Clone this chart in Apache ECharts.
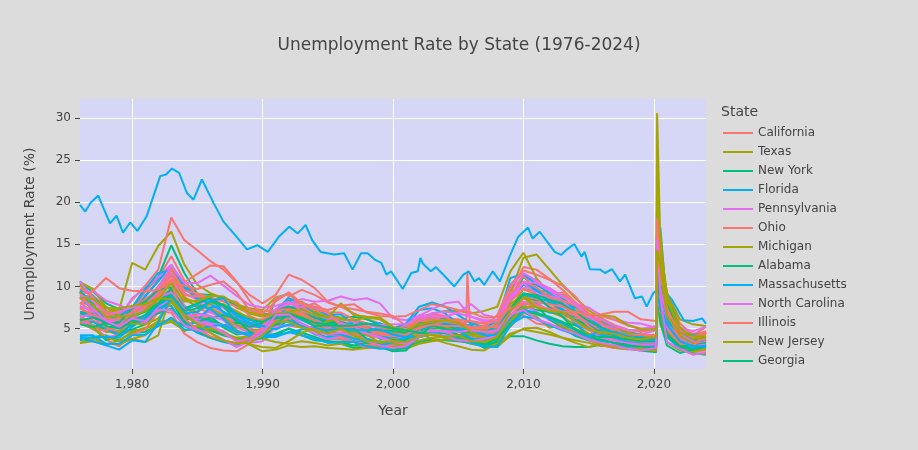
<!DOCTYPE html>
<html lang="en">
<head>
    <meta charset="UTF-8">
    <title>Unemployment Rate by State</title>
    <script src="https://cdn.jsdelivr.net/npm/echarts@6/dist/echarts.min.js"></script>
    <style>
        html, body { margin: 0; background: #dcdcdc; }
        #my { width: 918px; height: 450px; }
    </style>
</head>
<body>
<div id="my"></div>
<script>
    // time points (Jan of each year, then the 2020 shock)
    var years = [1976,1977,1978,1979,1980,1981,1982,1983,1984,1985,
        1986,1987,1988,1989,1990,1991,1992,1993,1994,1995,
        1996,1997,1998,1999,2000,2001,2002,2003,2004,2005,
        2006,2007,2008,2009,2010,2011,2012,2013,2014,2015,
        2016,2017,2018,2019,
        2020.17,2020.25,2020.5,2021,2022,2023,2024]

    var CA = [9.6,8.9,7.6,6.5,6.3,7.2,8.9,10.8,8.8,7.4, 6.9,6.4,5.6,5.1,5.2,6.6,8.8,9.6,9.0,8.1, 7.6,6.8,6.1,5.6,5.1,4.9,6.3,6.8,6.5,5.8, 5.0,5.0,6.0,9.4,12.3,12.0,10.9,9.6,8.1,6.8, 5.8,5.2,4.4,4.2, 4.1,16.1,13.5,9.0,5.6,4.2,5.2]
    var TX = [5.8,5.4,4.8,4.2,4.8,4.9,5.9,8.4,6.1,6.9, 8.2,8.8,7.5,6.8,6.4,6.7,7.5,7.1,6.5,6.1, 5.8,5.5,5.0,4.7,4.5,4.6,6.0,6.5,6.1,5.5, 5.0,4.4,4.4,6.2,8.1,8.1,7.0,6.4,5.4,4.4, 4.3,4.5,3.9,3.5, 3.5,13.0,9.0,7.0,4.6,4.0,4.0]
    var NY = [10.3,9.4,8.0,7.3,7.3,7.6,7.9,9.2,7.7,6.8, 6.5,5.1,4.3,4.5,4.9,6.8,8.3,8.1,7.4,6.6, 6.3,6.4,6.1,5.5,5.0,4.5,5.9,6.3,6.3,5.3, 4.8,4.5,5.0,7.5,8.9,8.3,8.5,8.2,6.9,5.6, 4.9,4.7,4.4,4.0, 3.9,15.3,14.0,9.0,5.0,4.1,4.3]
    var FL = [9.7,8.9,7.1,6.0,5.5,6.6,7.9,9.4,6.8,6.1, 5.8,5.4,5.1,5.3,5.8,7.2,8.6,8.0,7.1,6.1, 5.6,5.3,4.8,4.3,3.8,4.2,5.6,5.5,5.0,4.2, 3.3,3.4,4.8,8.5,11.1,10.8,9.0,7.9,6.6,5.7, 5.0,4.6,3.7,3.3, 3.2,13.8,11.0,5.9,3.3,2.7,3.1]
    var PA = [8.0,7.9,7.5,6.9,6.9,8.2,9.5,12.5,10.0,8.4, 7.8,6.8,5.7,4.9,4.7,6.2,7.4,7.2,6.4,6.0, 5.8,5.3,4.9,4.5,4.3,4.4,5.4,5.7,5.5,5.2, 4.8,4.5,4.6,7.2,8.6,8.0,8.0,7.8,6.3,5.3, 5.3,5.0,4.4,4.3, 4.8,16.1,13.2,7.5,4.8,3.7,3.5]
    var OH = [8.1,6.9,5.6,5.6,6.9,9.4,11.0,13.6,10.7,8.9, 8.4,7.5,6.4,5.7,5.3,6.3,7.2,6.8,5.9,4.9, 4.9,4.7,4.5,4.3,4.1,4.2,5.4,5.8,6.0,6.1, 5.7,5.6,5.9,9.1,10.6,9.0,7.6,7.2,6.2,5.0, 4.9,5.1,4.6,4.1, 4.3,17.4,11.4,5.7,4.1,3.6,3.9]
    var MI = [10.2,8.6,7.0,7.2,12.8,12.0,14.8,16.5,12.6,10.2, 9.2,8.6,7.9,7.4,7.2,8.7,9.1,7.9,6.8,5.6, 5.1,4.6,4.2,3.9,3.5,4.5,6.1,6.8,7.1,7.1, 6.8,7.1,7.6,11.8,14.0,11.0,9.2,9.0,7.8,6.0, 5.1,4.7,4.3,4.1, 3.9,22.7,9.8,6.0,4.3,3.9,3.9]
    var AL = [6.8,6.8,6.2,6.9,7.5,9.8,11.1,14.9,11.6,9.1, 9.0,8.6,7.7,7.2,6.7,6.8,7.4,7.3,6.5,5.8, 5.8,5.3,4.7,4.4,4.4,4.7,5.6,5.8,5.9,5.1, 3.8,3.4,3.9,8.3,11.2,9.7,8.1,7.1,6.9,6.4, 5.9,5.2,4.1,3.5, 2.7,13.2,7.9,4.1,3.0,2.5,2.9]
    var MA = [10.6,8.6,6.6,5.6,5.3,6.4,7.4,8.5,5.5,4.5, 3.9,3.4,3.1,3.5,4.5,8.5,9.2,7.9,6.9,5.9, 5.2,4.4,3.8,3.3,2.9,2.8,4.5,5.7,5.5,4.9, 4.8,4.6,4.6,7.1,8.7,7.9,6.9,6.8,6.2,5.1, 4.3,3.8,3.6,3.0, 2.8,16.4,17.0,7.5,4.2,3.5,2.9]
    var NC = [7.5,6.4,5.0,4.7,5.4,6.3,8.4,9.8,6.6,5.5, 5.3,4.7,3.6,3.3,3.5,5.2,6.3,5.6,4.8,4.3, 4.4,4.5,3.6,3.2,3.3,4.5,6.6,6.5,5.8,5.4, 4.9,4.7,5.5,9.5,11.2,10.5,9.8,8.8,6.6,5.9, 5.4,4.6,4.1,4.0, 3.6,12.9,8.5,5.7,3.8,3.5,3.4]
    var IL = [6.8,6.3,5.9,5.4,6.1,8.0,9.3,12.6,10.1,9.0, 8.6,7.8,7.1,6.0,6.1,6.8,7.9,7.7,6.4,5.4, 5.3,5.0,4.4,4.5,4.4,4.9,6.3,6.7,6.4,6.0, 4.8,4.8,5.6,8.7,11.4,9.4,9.0,9.3,7.8,6.3, 6.0,5.2,4.5,4.1, 3.9,17.2,11.7,7.4,4.9,4.4,4.6]
    var NJ = [10.5,9.7,7.5,7.0,7.1,7.3,8.4,9.6,7.0,6.1, 5.3,4.5,3.9,3.9,4.4,6.3,8.0,8.2,7.0,6.4, 6.3,5.8,4.9,4.5,3.8,3.8,5.6,5.9,5.2,4.6, 4.7,4.3,4.6,7.4,9.7,9.5,9.4,8.8,7.1,6.4, 5.1,4.8,4.3,3.6, 3.8,16.1,16.4,8.0,4.5,3.6,4.5]
    var GA = [8.7,7.2,5.7,5.3,6.0,6.5,7.7,8.6,6.0,6.4, 6.0,5.4,5.7,5.5,5.2,5.4,6.8,6.2,5.5,4.9, 4.9,4.6,4.3,4.1,3.6,3.7,4.9,5.0,5.0,5.2, 5.2,4.5,5.3,8.9,10.5,10.2,9.4,8.4,7.5,6.3, 5.5,5.1,4.1,3.5, 3.4,12.6,7.7,4.8,3.1,3.1,3.2]
    var WA = [9.0,8.7,6.8,6.6,6.8,8.8,10.7,12.4,10.2,8.6, 8.4,7.7,6.5,6.2,5.3,6.0,7.3,7.8,7.4,6.6, 6.7,5.4,4.9,5.0,5.0,5.2,7.2,7.4,6.8,5.6, 5.2,4.8,4.6,8.5,10.2,9.5,8.5,7.3,6.3,5.9, 5.6,5.0,4.6,4.3, 4.0,16.1,10.0,5.8,4.4,4.2,4.5]
    var AZ = [10.6,8.5,6.5,5.3,6.3,6.4,9.2,10.7,6.4,6.6, 7.0,6.3,6.4,5.4,5.4,5.7,7.6,7.0,6.3,5.6, 5.5,4.9,4.4,4.3,4.0,4.1,5.8,6.0,5.4,4.9, 4.3,3.8,4.6,8.2,10.5,9.8,8.5,7.9,7.0,6.4, 5.5,5.0,4.7,4.8, 4.8,13.5,9.0,6.9,3.5,3.9,4.2]
    var LA = [6.9,7.1,7.0,6.8,6.3,7.9,9.6,11.5,10.5,11.5, 12.5,12.4,10.6,8.3,6.5,6.9,8.1,7.5,8.0,6.9, 6.9,6.1,5.6,5.0,4.9,5.3,6.0,6.3,6.4,5.6, 5.0,4.1,4.0,5.8,7.4,7.7,7.3,6.5,6.2,6.4, 6.2,5.4,4.9,4.6, 5.0,13.1,9.6,7.5,4.3,3.6,3.8]
    var NV = [9.2,8.0,5.0,5.2,6.2,7.5,9.5,11.5,8.6,8.1, 7.2,6.1,5.4,4.8,4.9,5.9,6.8,7.0,6.2,5.5, 5.4,4.6,4.3,4.4,4.3,4.6,5.9,5.4,4.8,4.3, 4.2,4.4,5.6,9.3,13.4,13.8,12.0,10.2,8.6,7.2, 6.2,5.2,4.6,4.1, 3.9,30.6,15.0,9.2,6.1,5.5,5.3]
    var ND = [3.6,4.0,4.2,3.6,4.5,4.6,5.5,6.2,5.3,5.8, 6.3,5.3,4.6,4.4,3.8,4.2,5.0,4.5,4.0,3.5, 3.2,2.7,2.9,3.2,3.0,2.8,3.4,3.7,3.6,3.5, 3.3,3.2,3.2,4.1,4.1,3.6,3.2,2.9,2.8,2.8, 3.1,2.7,2.6,2.4, 2.2,8.6,6.5,4.4,3.2,2.1,1.9]
    var DC = [9.0,9.5,8.3,7.8,7.0,7.5,9.5,11.4,9.7,8.7, 8.2,7.5,6.2,5.0,5.5,6.4,8.0,8.5,8.2,8.3, 8.8,8.4,8.6,8.0,6.2,6.0,6.5,7.3,8.0,8.2, 6.4,5.8,6.0,8.6,9.8,10.1,9.8,8.8,7.9,7.5, 6.5,6.1,5.7,5.6, 5.1,11.1,8.7,7.2,5.1,4.7,5.2]
    var WV = [7.6,7.3,6.5,6.6,8.4,10.1,12.0,18.2,15.5,14.3, 13.0,12.0,10.5,9.0,8.0,9.0,11.4,10.8,9.8,8.2, 7.6,7.3,7.0,6.8,6.5,5.3,5.6,6.1,5.8,5.2, 5.0,4.7,4.4,6.2,8.6,8.6,7.6,7.0,6.6,6.7, 6.5,6.0,5.4,5.0, 5.0,15.9,10.0,6.6,4.1,3.7,4.2]
    var SD = [3.3,3.5,3.1,3.6,4.6,5.1,5.4,5.8,4.8,5.0, 4.8,4.2,3.9,4.1,3.8,3.4,3.2,3.5,3.3,3.0, 3.2,3.0,2.9,2.8,2.6,2.6,3.2,3.5,3.7,3.7, 3.3,3.0,2.8,4.2,5.0,5.1,4.6,3.9,3.6,3.3, 2.9,3.1,3.2,3.2, 3.0,9.4,6.3,3.4,2.5,2.0,2.0]
    var VA = [6.1,5.3,4.9,4.6,4.9,5.5,7.0,8.4,5.6,5.2, 5.0,4.4,3.7,3.7,4.0,5.3,6.4,5.2,5.1,4.6, 4.5,4.2,3.3,2.8,2.3,2.4,4.0,4.3,3.9,3.7, 3.2,2.9,3.5,6.0,7.3,6.7,6.2,5.7,5.4,4.9, 4.2,3.9,3.2,2.8, 2.8,11.5,8.3,5.0,3.2,2.9,2.9]
    var TN = [6.8,6.3,6.0,5.5,6.6,8.9,10.6,12.5,9.9,8.5, 8.0,7.0,6.1,5.5,5.0,6.3,6.7,6.0,5.3,5.0, 5.1,5.2,4.3,4.1,4.0,4.2,5.3,5.6,5.5,5.5, 5.4,4.6,5.3,8.8,10.5,9.6,8.8,8.0,7.7,6.6, 5.1,4.3,3.5,3.3, 3.3,15.8,9.8,5.5,3.6,3.3,3.2]
    var IN = [6.3,5.8,5.6,6.2,8.6,9.8,11.1,12.6,9.2,8.4, 7.0,6.2,5.2,4.5,4.8,6.1,6.5,5.6,4.7,4.3, 4.5,3.8,3.2,3.2,2.9,3.6,5.0,5.2,5.3,5.3, 5.1,4.4,5.0,8.9,10.4,9.1,8.8,8.5,6.5,5.8, 4.6,3.6,3.4,3.4, 3.3,17.5,8.5,4.7,3.0,3.2,3.7]
    var MO = [6.2,6.0,5.0,4.6,6.2,7.8,9.0,10.9,7.6,6.4, 6.3,6.6,5.9,5.6,5.8,5.8,6.2,6.4,5.2,4.9, 4.8,4.3,4.3,3.2,3.1,3.7,5.2,5.6,5.7,5.7, 5.0,4.9,5.4,8.2,9.7,9.0,7.5,6.9,6.6,5.4, 4.7,3.9,3.3,3.2, 3.5,11.0,8.0,4.7,3.1,2.8,3.4]
    var WI = [6.2,5.4,4.6,4.6,6.3,8.0,10.0,12.3,8.5,7.6, 7.5,6.5,4.8,4.2,4.4,5.3,5.4,5.1,4.7,3.8, 3.7,3.5,3.4,3.1,3.3,4.0,5.2,5.7,5.1,4.9, 4.8,4.8,4.6,7.9,9.0,7.8,7.2,6.9,6.0,4.9, 4.3,3.6,3.0,3.2, 3.4,14.1,7.9,5.2,3.0,2.9,3.0]
    var MD = [7.0,6.7,5.6,5.8,6.4,7.0,8.0,8.5,5.9,4.8, 4.8,4.2,3.8,3.5,3.9,5.5,6.8,6.5,5.7,5.3, 5.1,5.1,4.7,3.8,3.6,3.7,4.4,4.6,4.4,4.2, 3.9,3.6,3.7,6.1,7.6,7.2,7.0,6.8,6.0,5.4, 4.5,4.2,3.9,3.7, 3.3,9.9,7.7,6.4,4.0,2.3,2.5]
    var CO = [5.6,5.8,4.9,4.3,5.5,5.9,7.5,7.7,5.3,6.0, 7.5,7.8,6.5,5.7,5.1,5.0,6.0,5.3,4.3,4.0, 4.1,3.5,3.4,2.9,2.6,3.0,5.8,6.0,5.6,5.1, 4.6,3.9,4.4,7.3,9.0,8.7,8.2,7.2,5.6,4.0, 3.2,2.8,3.0,2.8, 2.7,12.1,9.6,6.6,3.6,3.0,3.6]
    var MN = [6.0,5.3,4.0,4.2,5.8,5.6,7.6,8.5,6.3,6.1, 5.6,5.4,4.6,4.2,4.6,5.2,5.4,5.2,4.4,3.7, 3.9,3.4,2.7,2.7,3.0,3.3,4.4,4.8,4.6,4.1, 4.0,4.4,4.8,7.6,7.8,7.0,6.0,5.3,4.5,3.8, 3.7,3.7,3.0,3.2, 3.3,9.0,8.5,4.6,2.7,2.8,2.8]
    var NH = [6.6,5.2,3.7,2.9,4.3,4.9,7.0,6.9,4.4,3.4, 2.7,2.4,2.3,3.2,5.0,7.2,7.5,6.7,5.5,4.3, 4.1,3.4,3.2,2.9,2.7,3.1,4.6,4.2,4.0,3.6, 3.4,3.6,3.7,6.1,6.6,5.6,5.4,5.2,4.4,3.6, 3.0,2.7,2.6,2.5, 2.6,16.4,9.0,4.3,2.7,2.3,2.4]
    var NE = [3.3,3.8,3.2,3.1,3.8,4.2,5.8,6.0,4.7,5.3, 5.0,4.6,3.7,3.1,2.3,2.5,3.0,2.8,2.9,2.7, 2.6,2.5,2.7,2.9,2.8,3.0,3.6,3.9,4.0,3.8, 3.2,3.1,3.1,4.4,4.9,4.6,4.3,3.9,3.3,2.8, 3.2,3.0,2.9,3.0, 3.0,8.3,5.5,3.4,2.4,2.3,2.6]
    var UT = [5.6,5.2,3.6,4.2,5.6,6.2,8.0,9.8,6.4,5.8, 6.3,6.6,6.2,4.6,4.1,4.4,5.0,4.2,3.6,3.5, 3.4,3.0,3.3,3.5,3.3,3.7,5.6,5.9,5.5,4.8, 3.5,2.7,3.0,5.9,8.0,7.7,6.1,5.1,4.1,3.6, 3.5,3.3,3.1,2.7, 2.4,9.8,5.9,3.0,2.1,2.5,2.8]
    var OR = [9.5,7.9,6.0,6.5,7.4,9.7,11.6,11.9,10.0,8.5, 8.8,6.9,6.0,5.6,5.2,6.2,7.6,7.3,6.2,5.3, 5.2,5.8,5.5,5.6,5.0,5.6,7.6,8.1,7.6,6.6, 5.6,5.2,5.8,11.0,11.5,10.2,9.2,8.5,7.1,6.0, 5.0,4.2,4.1,4.0, 3.5,13.3,11.0,6.4,4.2,4.2,4.0]
    var SC = [7.7,7.0,5.8,5.0,6.3,7.6,10.0,11.6,7.6,6.7, 6.5,6.0,4.6,4.1,4.6,6.1,6.6,7.6,6.3,5.1, 5.7,4.9,4.2,3.9,3.4,4.0,5.9,6.8,7.0,6.8, 6.4,6.0,6.0,10.0,11.6,10.7,9.5,8.3,6.7,6.4, 5.5,4.5,3.6,3.2, 2.6,12.8,8.3,5.5,3.4,3.2,3.0]
    var KY = [5.8,4.9,4.8,5.5,6.8,8.5,9.5,12.0,9.5,9.2, 8.6,8.4,8.2,6.5,5.8,6.0,7.2,6.8,5.9,5.3, 5.4,5.1,4.4,4.4,4.1,4.5,5.8,6.0,6.0,6.0, 5.9,5.6,5.8,9.2,10.6,9.9,8.7,8.3,7.7,5.9, 5.1,4.9,4.2,4.3, 4.1,16.6,7.3,5.5,4.0,3.9,4.4]
    var OK = [5.6,5.0,3.9,3.5,3.8,3.4,4.2,9.2,7.3,7.0, 8.0,7.9,7.0,6.3,5.8,6.6,6.9,6.5,5.9,4.8, 4.3,3.9,4.3,3.3,3.2,3.0,4.3,5.2,5.1,4.7, 4.2,3.8,3.7,5.2,6.9,6.4,5.1,5.3,5.0,4.2, 4.6,4.7,3.9,3.2, 3.1,13.6,7.0,4.7,2.7,3.1,3.4]
    var CT = [9.4,7.4,5.3,5.0,5.8,6.3,6.8,7.4,5.3,4.7, 3.9,3.5,3.1,3.4,4.6,7.2,7.6,7.3,6.3,5.7, 5.6,5.0,3.8,3.1,2.5,2.7,4.1,5.4,4.9,4.8, 4.5,4.5,5.1,7.3,9.1,9.0,8.4,7.9,6.9,5.9, 5.1,4.6,4.2,3.8, 3.8,8.1,10.3,8.1,4.4,3.6,4.0]
    var IA = [4.0,3.9,4.0,3.9,5.2,6.3,7.8,8.7,7.3,7.8, 7.3,6.2,4.6,4.4,4.0,4.0,4.6,4.2,3.8,3.3, 3.4,3.4,2.9,2.6,2.7,2.8,4.0,4.5,4.8,4.8, 3.8,3.7,3.8,5.5,6.4,6.2,5.4,5.0,4.5,4.0, 3.6,3.3,2.7,2.6, 2.8,11.0,8.0,5.0,3.5,2.9,2.8]
    var MS = [6.4,6.6,6.0,5.6,6.9,8.4,9.8,12.5,10.4,10.4, 11.3,10.1,8.9,7.8,7.5,7.7,8.2,7.1,6.6,6.2, 6.1,5.8,5.2,5.4,5.5,5.5,6.4,6.5,6.4,6.9, 7.9,6.6,6.3,8.6,10.5,10.4,9.5,8.9,7.8,6.6, 6.1,5.3,4.8,4.9, 5.3,15.7,9.7,6.6,4.3,3.5,3.0]
    var AR = [7.4,6.6,6.2,6.0,7.2,8.5,9.4,11.3,9.0,8.8, 8.7,8.2,7.6,7.2,7.0,7.2,7.3,6.6,5.9,4.9, 5.1,5.2,5.3,4.5,4.3,4.4,5.1,5.5,5.8,5.6, 5.2,5.3,5.1,6.6,8.0,8.2,7.9,7.6,6.8,5.3, 4.2,3.6,3.6,3.5, 3.6,10.0,7.0,5.0,3.2,2.8,3.5]
    var HI = [9.3,7.2,7.5,6.5,5.6,5.5,6.2,8.1,6.5,5.8, 5.2,4.4,3.8,3.1,2.8,2.7,3.5,4.5,5.1,5.9, 6.1,6.0,6.3,6.1,5.1,4.2,4.4,3.8,3.3,2.9, 2.5,2.4,3.3,6.1,7.0,6.8,6.3,5.3,4.5,3.7, 3.1,2.8,2.5,2.7, 2.3,21.9,14.0,9.3,4.1,3.3,3.0]
    var ID = [5.5,5.2,5.6,5.7,7.4,8.2,9.6,9.9,7.4,8.0, 8.6,7.7,5.8,5.2,5.7,6.2,6.5,6.3,5.7,5.5, 5.4,5.3,5.0,4.8,4.7,4.5,5.6,5.6,5.0,4.2, 3.6,2.9,3.5,7.3,9.2,8.8,7.5,6.4,4.8,4.0, 3.7,3.3,2.9,2.9, 2.7,11.5,7.5,4.4,2.9,3.0,3.3]
    var KS = [4.2,4.2,3.2,3.2,4.2,4.3,5.3,6.3,4.9,4.9, 5.3,5.4,4.7,4.1,4.3,4.2,4.5,4.9,5.2,4.3, 4.3,3.8,3.7,3.0,3.4,4.0,4.9,5.3,5.6,5.3, 4.7,4.2,4.2,6.2,7.2,6.9,6.2,5.6,4.8,4.2, 4.2,3.9,3.4,3.2, 3.0,12.0,7.5,4.0,2.6,2.8,2.8]
    var ME = [9.0,8.3,6.6,7.0,7.5,7.8,8.7,9.3,7.3,5.8, 5.4,4.5,3.5,3.8,4.8,7.3,8.0,7.9,7.5,6.8, 5.6,5.3,4.4,4.0,3.5,3.2,4.2,4.7,4.7,4.6, 4.8,4.6,4.8,7.0,8.2,7.8,7.3,6.9,5.8,4.8, 3.9,3.6,3.3,3.1, 3.1,9.1,7.1,5.2,3.8,2.9,3.1]
    var RI = [9.8,8.8,6.8,6.3,6.9,7.6,8.9,10.4,6.2,4.9, 4.1,3.6,3.2,3.8,5.2,8.6,9.1,7.9,7.2,7.0, 5.3,5.4,5.0,4.3,4.1,4.3,5.0,5.5,5.3,5.3, 5.1,5.2,6.6,10.2,11.9,11.4,10.8,10.1,8.8,6.8, 5.6,4.6,4.2,3.6, 3.5,18.1,11.5,7.3,3.6,2.9,4.5]
    var NM = [8.6,7.8,6.4,6.5,6.5,7.1,8.5,10.4,8.2,8.3, 8.9,8.8,7.9,6.9,6.6,6.7,7.0,7.3,6.6,6.3, 8.0,6.6,6.4,6.3,5.2,4.8,5.5,5.8,6.0,5.7, 4.6,3.9,3.8,5.9,7.6,7.6,7.1,6.9,7.0,6.6, 6.6,6.4,5.4,4.9, 4.9,13.1,12.5,8.3,5.2,3.8,3.9]
    var MT = [6.0,6.3,5.7,5.1,6.0,6.6,7.9,9.0,7.1,7.4, 8.2,7.8,6.8,6.0,5.8,6.6,6.8,6.2,5.3,5.4, 5.3,5.4,5.6,5.3,5.0,4.8,4.5,4.4,4.1,4.0, 3.5,3.1,3.8,5.6,7.0,6.8,6.4,5.8,4.9,4.1, 4.0,4.0,3.7,3.5, 3.5,11.9,7.5,4.2,2.8,2.5,3.0]
    var WY = [3.8,3.5,3.0,2.5,3.6,3.4,5.7,8.8,6.8,7.0, 8.3,8.6,6.5,6.1,5.3,4.9,5.5,5.3,5.0,4.8, 5.0,4.8,4.8,4.9,4.3,4.0,4.0,4.3,4.1,3.7, 3.3,2.9,2.8,5.4,7.0,6.1,5.4,4.8,4.3,4.0, 4.9,4.6,4.1,3.7, 3.6,8.8,7.6,5.5,3.5,2.9,2.9]
    var VT = [8.8,7.3,5.9,5.2,6.2,5.9,7.2,7.2,5.4,4.8, 4.5,3.7,2.8,3.5,4.5,6.6,6.7,5.6,4.9,4.3, 4.5,4.2,3.5,3.0,2.7,2.9,4.0,4.4,4.1,3.6, 3.5,3.8,4.1,6.7,7.2,6.1,5.6,4.9,4.4,3.7, 3.3,3.0,2.6,2.4, 2.7,15.6,8.7,3.4,2.6,1.9,2.2]
    var AK = [7.9,9.5,11.0,9.8,9.5,9.4,9.6,10.6,10.1,9.7, 10.2,10.6,9.3,7.2,6.8,8.2,9.3,8.0,7.6,7.2, 7.7,7.9,6.9,6.5,6.4,6.5,7.2,7.9,7.6,7.2, 6.9,6.3,6.4,7.4,8.0,7.7,7.2,7.0,7.0,6.6, 6.7,7.0,7.0,6.1, 5.9,13.5,12.0,7.2,4.5,4.0,4.7]
    var DE = [8.7,8.5,7.4,7.4,7.7,7.9,8.6,8.5,6.6,5.6, 4.5,3.6,3.3,3.3,4.2,5.8,5.8,5.1,4.9,4.4, 5.0,4.2,3.5,3.4,3.5,3.4,4.1,4.3,4.0,4.2, 3.5,3.4,4.0,7.1,8.7,7.5,7.1,6.9,5.9,4.9, 4.5,4.4,3.9,3.7, 4.0,14.3,12.5,6.5,4.5,4.1,4.1]

    // Puerto Rico has its own, denser readings
    var prYears = [1976.0,1976.4,1976.8,1977.4,1977.8,1978.3,1978.8,1979.3,1979.85,1980.4,
        1981.1,1982.15,1982.6,1983.05,1983.6,1984.2,1984.7,1985.35,1986.25,1987.0,
        1987.9,1988.8,1989.6,1990.4,1991.3,1992.05,1992.7,1993.3,1993.8,1994.45,
        1995.5,1996.25,1996.9,1997.55,1998.05,1998.6,1999.1,1999.5,1999.85,2000.75,
        2001.4,2001.9,2002.1,2002.3,2002.9,2003.3,2004.1,2004.7,2005.4,2005.8,
        2006.25,2006.6,2007.0,2007.65,2008.2,2008.95,2009.6,2010.35,2010.7,2011.25,
        2012.4,2012.9,2013.3,2013.9,2014.45,2014.7,2015.1,2015.9,2016.25,2016.8,
        2017.4,2017.8,2018.55,2019.1,2019.45,2019.95,2020.25,2020.9,2021.4,2022.3,
        2023.0,2023.7,2024.0]
    var prRates = [19.7,18.9,19.9,20.8,19.3,17.5,18.4,16.4,17.6,16.6,
        18.3,23.1,23.3,24.0,23.5,21.1,20.3,22.7,19.9,17.7,
        16.1,14.4,14.9,14.1,16.0,17.1,16.3,17.3,15.5,14.1,
        13.8,13.95,12.0,13.95,13.95,13.2,12.8,11.4,11.8,9.7,
        11.6,11.8,13.4,12.7,11.8,12.3,11.0,10.0,11.4,11.8,
        10.6,11.0,10.2,11.8,10.6,13.6,15.9,17.0,15.7,16.5,
        14.1,13.75,14.35,15.05,13.55,14.1,12.05,12.0,11.6,12.05,
        10.6,11.4,8.6,8.8,7.6,9.2,9.6,9.3,8.4,6.0,
        5.9,6.2,5.6]

    // Louisiana, hurricane Katrina months
    var katrinaYears = [2005.62, 2005.7, 2005.79, 2005.88]
    var katrinaRates = [5.7, 11.6, 11.4, 6.0]

    var stateNames = ['California','Texas','New York','Florida','Pennsylvania','Ohio','Michigan','Alabama',
        'Massachusetts','North Carolina','Illinois','New Jersey','Georgia','Washington','Arizona','Louisiana',
        'Nevada','North Dakota','Puerto Rico','District of Columbia','West Virginia','South Dakota','Virginia',
        'Tennessee','Indiana','Missouri','Wisconsin','Maryland','Colorado','Minnesota','New Hampshire','Nebraska',
        'Utah','Oregon','South Carolina','Kentucky','Oklahoma','Connecticut','Iowa','Mississippi','Arkansas',
        'Hawaii','Idaho','Kansas','Maine','Rhode Island','New Mexico','Montana','Wyoming','Vermont','Alaska','Delaware']
    var stateRates = [CA,TX,NY,FL,PA,OH,MI,AL,MA,NC,IL,NJ,GA,WA,AZ,LA,NV,ND,null,DC,WV,SD,VA,
        TN,IN,MO,WI,MD,CO,MN,NH,NE,UT,OR,SC,KY,OK,CT,IA,MS,AR,HI,ID,KS,ME,RI,NM,MT,WY,VT,AK,DE]

    var palette = ['#F8766D', '#A3A500', '#00BF7D', '#00B0F6', '#E76BF3']
    var font = 'DejaVu Sans'
    var decades = [1980, 1990, 2000, 2010, 2020]
    var yTicks = [5, 10, 15, 20, 25, 30]

    var series = stateNames.map(function (name, i) {
        var data
        if (name === 'Puerto Rico') {
            data = prYears.map(function (y, k) { return [y, prRates[k]] })
        } else {
            data = years.map(function (y, k) { return [y, stateRates[i][k]] })
        }
        if (name === 'Louisiana') {
            var extra = katrinaYears.map(function (y, k) { return [y, katrinaRates[k]] })
            data = data.slice(0, 30).concat(extra, data.slice(30))
        }
        return {
            name: name,
            type: 'line',
            data: data,
            symbol: 'none',
            showSymbol: false,
            silent: true,
            lineStyle: { width: 2 },
            emphasis: { disabled: true }
        }
    })

    var mCharts = echarts.init(document.getElementById('my'))
    var option = {
        backgroundColor: '#dcdcdc',
        animation: false,
        color: palette,
        title: [
            {
                text: 'Unemployment Rate by State (1976-2024)',
                left: 'center', top: 37, padding: 0,
                textStyle: { fontSize: 17, fontWeight: 'normal', color: '#444', fontFamily: font }
            },
            {
                text: 'State',
                left: 721, top: 105, padding: 0,
                textStyle: { fontSize: 14, fontWeight: 'normal', color: '#444', fontFamily: font }
            }
        ],
        legend: {
            data: stateNames.slice(0, 13),
            orient: 'vertical',
            left: 723, top: 126,
            padding: 0,
            icon: 'rect',
            itemWidth: 30, itemHeight: 2,
            itemGap: 5,
            selectedMode: false,
            textStyle: { color: '#444', fontSize: 12, lineHeight: 14, fontFamily: font }
        },
        grid: {
            left: 80, right: 212, top: 99, bottom: 81,
            show: true, backgroundColor: '#d6d6f6', borderWidth: 0
        },
        xAxis: {
            type: 'value',
            min: 1976, max: 2024,
            name: 'Year', nameLocation: 'middle', nameGap: 35,
            nameTextStyle: { color: '#444', fontSize: 14, fontFamily: font },
            axisLine: { show: false },
            axisTick: { show: true, length: 5, lineStyle: { color: '#444' }, customValues: decades },
            axisLabel: { color: '#444', fontSize: 12, margin: 10, fontFamily: font, customValues: decades },
            splitLine: { show: true, lineStyle: { color: '#ffffff', width: 1 } }
        },
        yAxis: {
            type: 'value',
            min: 0.2, max: 32.26,
            name: 'Unemployment Rate (%)', nameLocation: 'middle', nameGap: 43,
            nameTextStyle: { color: '#444', fontSize: 14, fontFamily: font },
            axisLine: { show: false },
            axisTick: { show: true, length: 5, lineStyle: { color: '#444' }, customValues: yTicks },
            axisLabel: { color: '#444', fontSize: 12, margin: 9, fontFamily: font, customValues: yTicks },
            splitLine: { show: true, lineStyle: { color: '#ffffff', width: 1 } }
        },
        series: series
    }
    mCharts.setOption(option)
</script>
</body>
</html>
